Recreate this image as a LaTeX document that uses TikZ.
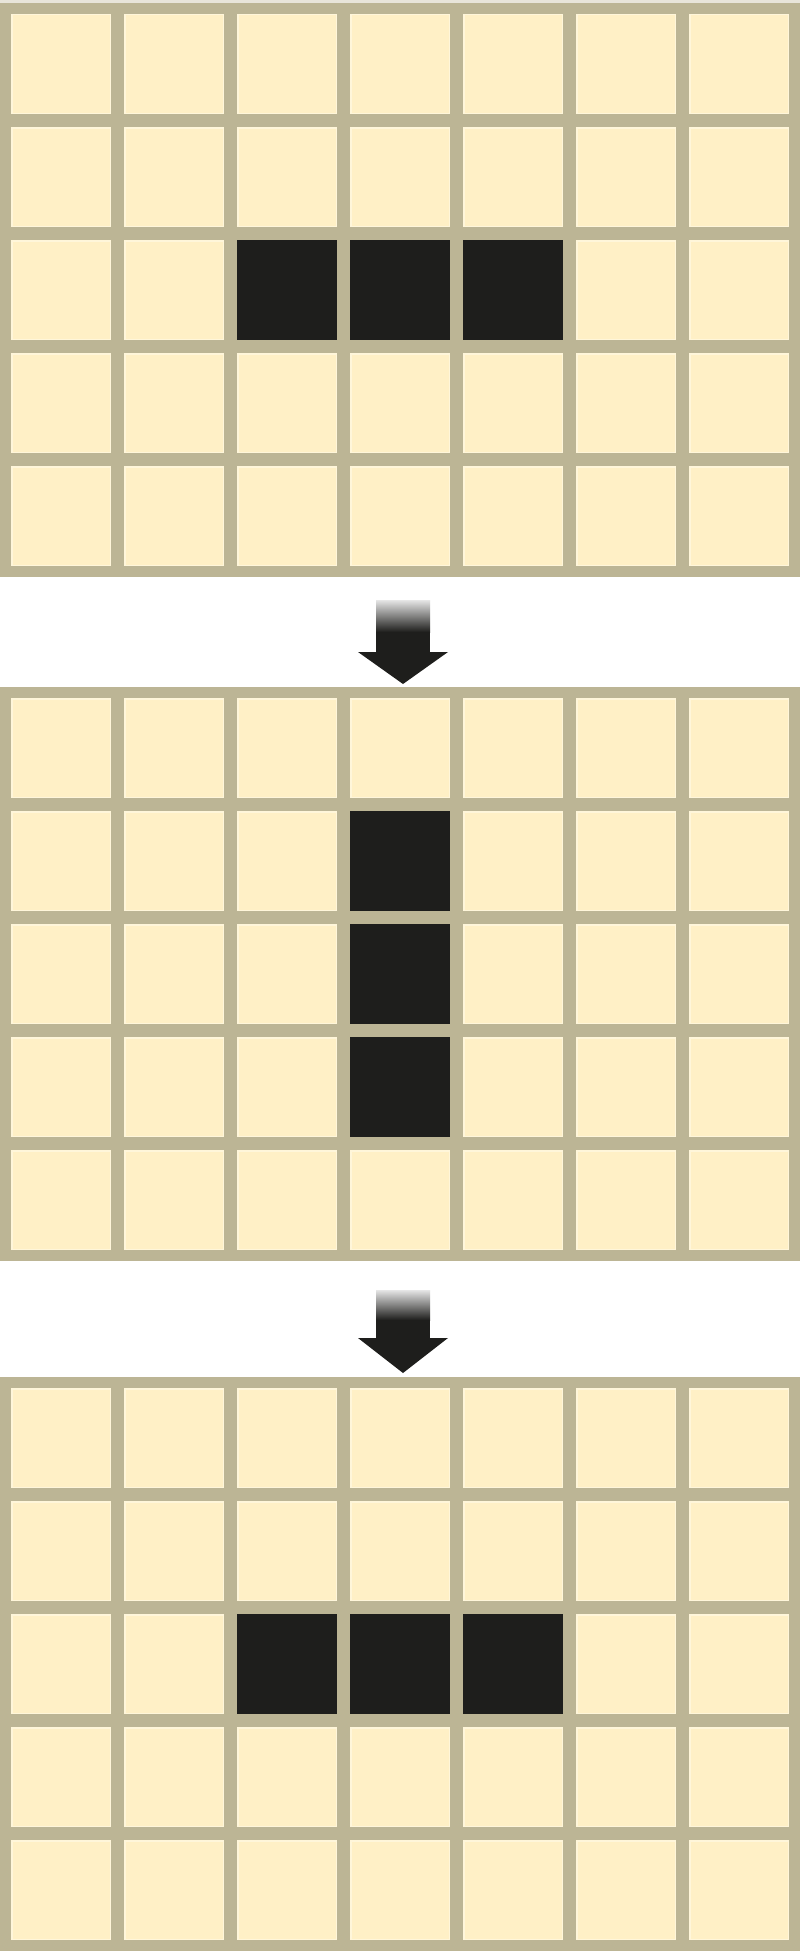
\documentclass[tikz,border=0pt]{standalone}
\definecolor{gridtan}{HTML}{BCB595}
\definecolor{cellyel}{HTML}{FFF0C6}
\definecolor{celledge}{HTML}{FFF6DA}
\definecolor{darkcell}{HTML}{1E1E1C}
\tikzset{
  tanframe/.style={fill=gridtan},
  yelcell/.style={fill=cellyel, draw=celledge, line width=1.5pt},
  blackcell/.style={fill=darkcell},
  arrowbody/.style={fill=darkcell}
}
\newcommand\lifegrid[2]{%
  \fill[tanframe] (0,#1) rectangle (800,#1+574);
  \foreach \c in {0,...,6}{\foreach \r in {0,...,4}{%
    \filldraw[yelcell] ({11+113*\c+0.75},{#1+11+113*\r+0.75}) rectangle ++(98.5,98.5);}}
  \foreach \c/\r in {#2}{\fill[blackcell] ({11+113*\c},{#1+11+113*\r}) rectangle ++(100,100);}
}
\newcommand\downarrowat[4]{%
  \shade[top color=white!90!black, bottom color=darkcell] (376,#1) rectangle (430,#2);
  \fill[arrowbody] (376,#2-0.5) rectangle (430,#3);
  \fill[arrowbody] (358,#3) -- (448,#3) -- (403,#4) -- cycle;
}
\begin{document}
\begin{tikzpicture}[x=1pt,y=-1pt]
\useasboundingbox (0,0) rectangle (800,1951);
\fill[white] (0,0) rectangle (800,1951);
\fill[gridtan!35] (0,0) rectangle (800,3);
\lifegrid{3}{2/2,3/2,4/2}
\downarrowat{600}{632}{652}{684}
\lifegrid{687}{3/1,3/2,3/3}
\downarrowat{1290}{1320}{1338}{1373}
\lifegrid{1377}{2/2,3/2,4/2}
\end{tikzpicture}
\end{document}
